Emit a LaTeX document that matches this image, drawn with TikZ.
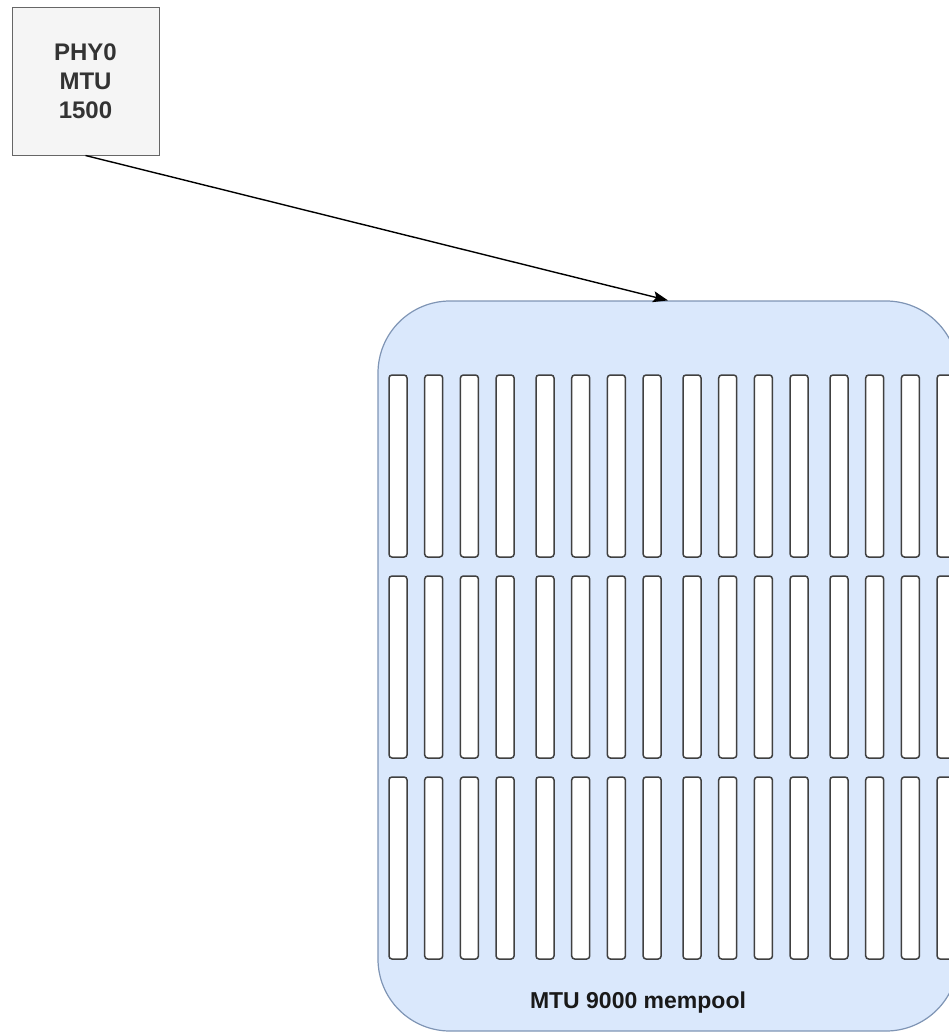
\documentclass[tikz,border=0pt]{standalone}
\usepackage{fontspec}
\setmainfont{Liberation Sans}
\usetikzlibrary{arrows.meta,positioning,calc}

\definecolor{poolfill}{HTML}{DAE8FC}
\definecolor{poolline}{HTML}{7F95B5}
\definecolor{phyfill}{HTML}{F5F5F5}
\definecolor{phyline}{HTML}{666666}
\definecolor{phytext}{HTML}{333333}

\begin{document}
\begin{tikzpicture}[
  x=1pt, y=-1pt,
  >=Stealth,
  line/.style={-{Stealth[length=15pt, width=11pt, inset=3pt]}, line width=1.4pt},
  phybox/.style={
    draw=phyline, fill=phyfill, line width=1pt, align=center,
    minimum width=147pt, minimum height=147pt, text=phytext,
    font=\bfseries\fontsize{24}{29}\selectfont
  },
  poolbox/.style={
    draw=poolline, fill=poolfill, line width=1.2pt, rounded corners=72pt,
    minimum width=580pt, minimum height=730pt
  },
  slot/.style={
    draw=black!75, fill=white, line width=1.5pt, rounded corners=3pt,
    minimum width=18pt, minimum height=182pt, inner sep=0pt
  },
  poolname/.style={font=\bfseries\fontsize{23}{27}\selectfont, text=black!90}
]

% Page frame (pool runs off the right edge)
\clip (0,0) rectangle (949,1033);

% Interface box
\node[phybox] (phy) at (85.5,81.5) {PHY0\\MTU\\1500};

% Mempool
\node[poolbox] (pool) at (668,666) {};

% Buffer slots: 3 rows, 4 groups of 4
\foreach \row in {0,1,2}
  \foreach \grp in {0,...,3}
    \foreach \col in {0,...,3}
      \node[slot] (slot-\row-\grp-\col) at ({398+147*\grp+35.7*\col},{466+201*\row}) {};

% Pool label
\node[poolname, anchor=base] (poolname) at ($(pool.south)+(-30,-23)$) {MTU 9000 mempool};

% Connector
\draw[line] (phy.south) -- (pool.north);

\end{tikzpicture}
\end{document}
